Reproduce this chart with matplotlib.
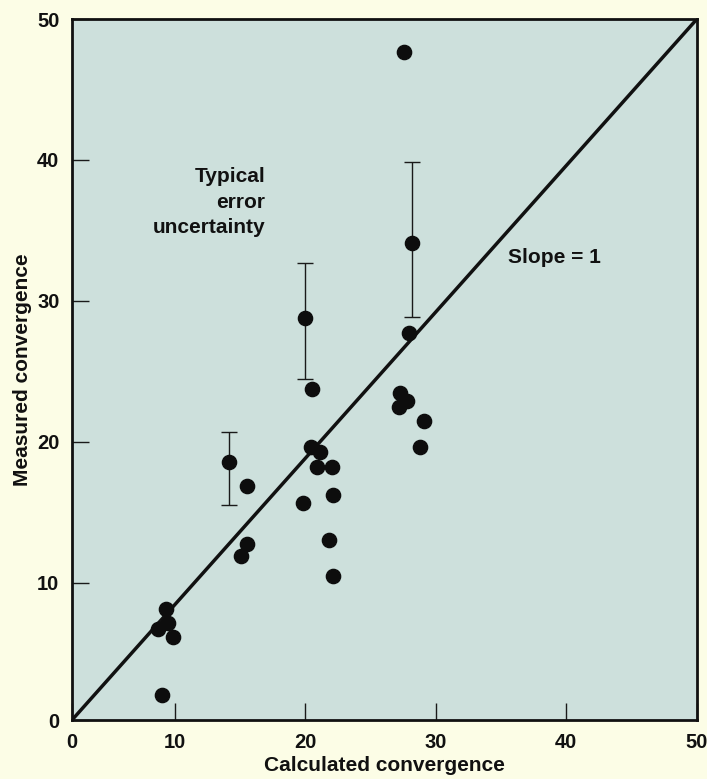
import matplotlib
matplotlib.use("Agg")
import matplotlib.pyplot as plt

# calculated vs measured convergence
calc = [27.55, 27.93, 20.53, 27.24, 27.81, 27.16, 29.13, 28.77, 15.55,
        20.45, 21.11, 20.91, 22.06, 22.14, 19.84, 15.55, 15.06, 21.80,
        22.14, 9.34, 9.46, 8.70, 9.88, 9.03]
measured = [47.69, 27.74, 23.73, 23.48, 22.90, 22.45, 21.46, 19.65, 16.88,
            19.65, 19.30, 18.19, 18.19, 16.22, 15.68, 12.75, 11.89, 13.00,
            10.50, 8.15, 7.16, 6.74, 6.15, 2.01]

# points drawn with their typical error bars
err_calc = [28.19, 19.96, 14.14]
err_measured = [34.13, 28.81, 18.59]
err_low = [5.29, 4.37, 3.08]
err_high = [5.71, 3.86, 2.13]

x_ticks = [10, 20, 30, 40, 50]
y_ticks = [10, 20, 30, 40, 50]


def main():
    plt.rcParams["font.family"] = ["Liberation Sans", "DejaVu Sans"]
    plt.rcParams["font.weight"] = "bold"

    fig = plt.figure(figsize=(7.07, 7.79), dpi=100, facecolor="#fcfde6")
    ax = fig.add_axes([0.1018, 0.0757, 0.8840, 0.8999])
    ax.set_facecolor("#cde0dc")

    x0, y0 = 2.14, 0.25
    ax.set_xlim(x0, 50)
    ax.set_ylim(y0, 50)

    # slope = 1 line, corner to corner as in the original
    ax.plot([x0, 50], [y0, 50], color="#111111", lw=2.5, zorder=2)

    ax.scatter(calc, measured, s=105, color="#0d0d0d", zorder=3)
    ax.errorbar(err_calc, err_measured, yerr=[err_low, err_high], fmt="o",
                ms=10.2, color="#0d0d0d", ecolor="#1a1a1a", elinewidth=1.0,
                capsize=6, capthick=1.0, zorder=3)

    ax.text(16.95, 37.0, "Typical\nerror\nuncertainty", ha="right",
            va="center", multialignment="right", fontsize=15,
            fontweight="bold", linespacing=1.45, color="#111111")
    ax.text(35.5, 33.05, "Slope = 1", ha="left", va="center", fontsize=15,
            fontweight="bold", color="#111111")

    ax.set_xticks([x0] + x_ticks, labels=["0"] + [str(t) for t in x_ticks])
    ax.set_yticks([y0] + y_ticks, labels=["0"] + [str(t) for t in y_ticks])
    ax.tick_params(direction="in", length=12, width=1.0, labelsize=14.5,
                   color="#1a1a1a", labelcolor="#111111")
    ax.tick_params(axis="x", pad=9)
    ax.tick_params(axis="y", pad=9)
    for side in ["left", "bottom", "right", "top"]:
        ax.spines[side].set_linewidth(2.0)
        ax.spines[side].set_color("#111111")

    ax.set_xlabel("Calculated convergence", fontsize=15, fontweight="bold",
                  color="#111111", labelpad=3)
    ax.set_ylabel("Measured convergence", fontsize=15, fontweight="bold",
                  color="#111111", labelpad=4)

    fig.savefig("out.png", dpi=100, facecolor=fig.get_facecolor())


if __name__ == "__main__":
    main()
